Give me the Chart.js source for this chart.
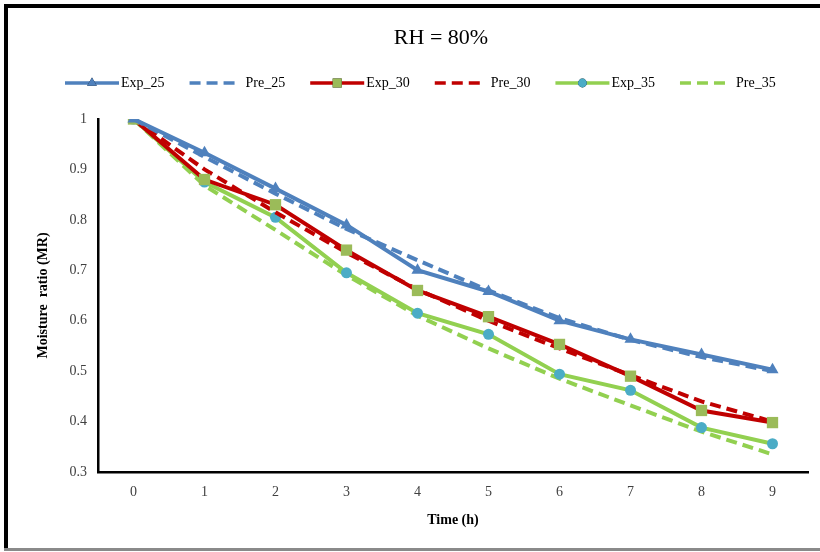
<!DOCTYPE html>
<html>
<head>
<meta charset="utf-8">
<script src="https://cdn.jsdelivr.net/npm/chart.js@4"></script>
<style>
  body { margin: 0; background: #fff; }
  #wrap { position: absolute; left: 0; top: 0; width: 820px; height: 552px; }
</style>
</head>
<body>
<div id="wrap"><canvas id="chart" width="820" height="552"></canvas></div>
<script>
// data
const timeLabels = ['0', '1', '2', '3', '4', '5', '6', '7', '8', '9'];
const exp25 = [1, 0.933, 0.862, 0.79, 0.70, 0.658, 0.60, 0.563, 0.533, 0.503];
const pre25 = [1, 0.925, 0.852, 0.782, 0.72, 0.66, 0.605, 0.562, 0.528, 0.50];
const exp30 = [1, 0.88, 0.83, 0.74, 0.66, 0.608, 0.553, 0.49, 0.422, 0.398];
const pre30 = [1, 0.90, 0.815, 0.735, 0.662, 0.60, 0.545, 0.492, 0.44, 0.40];
const exp35 = [1, 0.875, 0.805, 0.695, 0.615, 0.573, 0.494, 0.462, 0.388, 0.356];
const pre35 = [1, 0.868, 0.78, 0.69, 0.61, 0.545, 0.485, 0.432, 0.38, 0.335];

const BLUE = '#4F81BD';
const RED = '#C00000';
const GREEN = '#92D050';
const SERIF = '"Liberation Serif", "Times New Roman", serif';

function series(label, data, color, dashed, marker, markerColor, radius) {
    return {
        label: label,
        data: data,
        borderColor: color,
        backgroundColor: markerColor || color,
        borderWidth: 4,
        borderDash: dashed ? [11, 6] : [],
        borderCapStyle: 'butt',
        pointStyle: marker || false,
        pointRadius: marker ? radius : 0,
        pointBorderWidth: 0,
        pointBorderColor: markerColor || color,
        pointBackgroundColor: markerColor || color,
        tension: 0,
    };
}

const datasets = [
    series('Exp_25', exp25, BLUE, false, 'triangle', BLUE, 7),
    series('Pre_25', pre25, BLUE, true),
    series('Exp_30', exp30, RED, false, 'rect', '#9BBB59', 8),
    series('Pre_30', pre30, RED, true),
    series('Exp_35', exp35, GREEN, false, 'circle', '#4BACC6', 5.5),
    series('Pre_35', pre35, GREEN, true),
];

// frame, title and legend drawn by hand
const decor = {
    id: 'decor',
    beforeDraw(chart) {
        const ctx = chart.ctx;
        ctx.save();
        ctx.fillStyle = '#fff';
        ctx.fillRect(0, 0, chart.width, chart.height);
        ctx.fillStyle = '#000';
        ctx.fillRect(4, 4, 816, 4);
        ctx.fillRect(4, 4, 4, 546);
        ctx.fillStyle = '#8a8a8a';
        ctx.fillRect(4, 548, 816, 3);
        ctx.restore();
    },
    afterDraw(chart) {
        const ctx = chart.ctx;
        ctx.save();
        ctx.fillStyle = '#000';
        ctx.font = '22px ' + SERIF;
        ctx.textAlign = 'center';
        ctx.textBaseline = 'middle';
        ctx.fillText('RH = 80%', 441, 38);

        ctx.font = '14px ' + SERIF;
        ctx.textAlign = 'left';
        let x = 65;
        const y = 83;
        chart.data.datasets.forEach(ds => {
            const lineW = ds.borderDash.length ? 48 : 54;
            ctx.strokeStyle = ds.borderColor;
            ctx.lineWidth = 3.5;
            ctx.setLineDash(ds.borderDash.length ? [11, 6] : []);
            ctx.beginPath();
            ctx.moveTo(x, y);
            ctx.lineTo(x + lineW, y);
            ctx.stroke();
            ctx.setLineDash([]);
            if (ds.pointStyle) {
                Chart.helpers.drawPoint(ctx, {
                    pointStyle: ds.pointStyle,
                    radius: ds.pointRadius * 0.8,
                    rotation: 0,
                    borderWidth: 0,
                }, x + lineW / 2, y);
                ctx.fillStyle = ds.pointBackgroundColor;
                ctx.fill();
            }
            ctx.fillStyle = '#000';
            const tx = x + lineW + (ds.borderDash.length ? 8 : 2);
            ctx.fillText(ds.label, tx, y);
            x = tx + ctx.measureText(ds.label).width + 25;
        });
        ctx.restore();
    }
};

const ctx = document.getElementById('chart').getContext('2d');
new Chart(ctx, {
    type: 'line',
    data: { labels: timeLabels, datasets: datasets },
    options: {
        responsive: false,
        animation: false,
        layout: { padding: { top: 119, right: 12, left: 0, bottom: 0 } },
        plugins: { legend: { display: false }, title: { display: false }, tooltip: { enabled: false } },
        scales: {
            x: {
                offset: true,
                grid: { display: false, drawTicks: false },
                border: { display: true, color: '#000', width: 2.5 },
                ticks: { color: '#404040', padding: 12, font: { family: SERIF, size: 14 } },
                title: { display: true, text: 'Time (h)', color: '#000', padding: { top: 0, bottom: 23 },
                         font: { family: SERIF, size: 14, weight: 'bold' } },
                afterFit(scale) { scale.height = 80; },
            },
            y: {
                min: 0.3,
                max: 1,
                grid: { display: false, drawTicks: false },
                border: { display: true, color: '#000', width: 2.5 },
                ticks: { stepSize: 0.1, color: '#404040', padding: 11, font: { family: SERIF, size: 14 },
                         callback: v => Math.round(v * 10) / 10 },
                title: { display: true, text: 'Moisture  ratio (MR)', color: '#000', padding: { top: 35, bottom: 0 },
                         font: { family: SERIF, size: 14, weight: 'bold' } },
                afterFit(scale) { scale.width = 98; },
            },
        },
    },
    plugins: [decor],
});
</script>
</body>
</html>
